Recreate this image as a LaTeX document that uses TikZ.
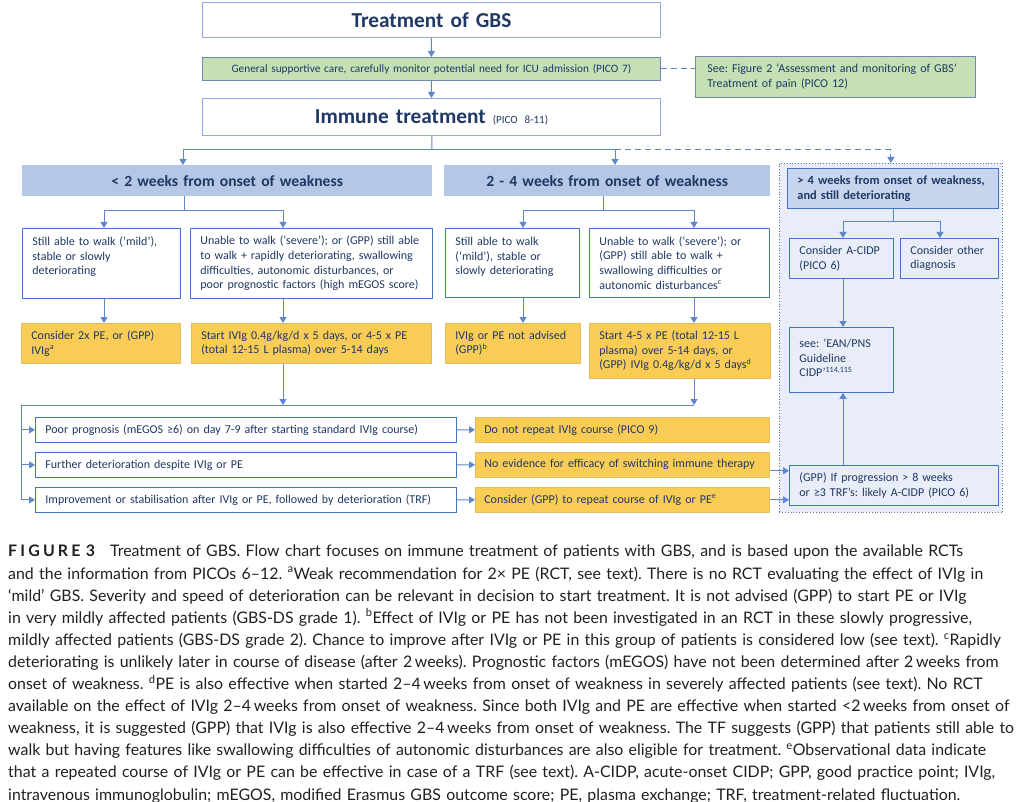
\documentclass[tikz,border=0pt]{standalone}
\usepackage{fontspec}
\setmainfont{Carlito}
\newfontfamily\capfont{Lato}
\usetikzlibrary{arrows.meta, calc}
\definecolor{Navy}{RGB}{31,56,100}
\definecolor{BoxBlue}{RGB}{68,114,196}
\definecolor{PaleBlue}{RGB}{143,170,220}
\definecolor{HeadBlue}{RGB}{180,199,231}
\definecolor{PanelBlue}{RGB}{232,237,247}
\definecolor{PanelHead}{RGB}{199,213,238}
\definecolor{Gold}{RGB}{249,204,86}
\definecolor{GoldEdge}{RGB}{226,188,96}
\definecolor{Sage}{RGB}{197,224,180}
\definecolor{CapGrey}{RGB}{35,31,32}
\definecolor{DotGrey}{RGB}{95,115,150}

\tikzset{
  base/.style={anchor=north west, inner xsep=10pt, inner ysep=0pt, align=left, text=Navy,
    font=\fontsize{12}{14.7}\selectfont},
  wbox/.style={base, draw=BoxBlue, line width=0.8pt, fill=white},
  pbox/.style={base, draw=BoxBlue, line width=0.8pt},
  obox/.style={base, draw=GoldEdge, line width=0.6pt, fill=Gold},
  gbox/.style={base, draw=PaleBlue!80!black, line width=0.8pt, fill=Sage},
  hbox/.style={base, fill=HeadBlue, align=center, font=\bfseries\fontsize{15.6}{18}\selectfont},
  phead/.style={base, draw=BoxBlue, line width=0.8pt, fill=PanelHead, font=\bfseries\fontsize{12.4}{15}\selectfont},
  tbox/.style={base, draw=PaleBlue, line width=1pt, fill=white, align=center, font=\bfseries\fontsize{21.3}{25}\selectfont},
  topbox/.style 2 args={text height=#1, text depth=#2},
  link/.style={draw=BoxBlue!85, line width=1pt},
  arr/.style={link, -{Triangle[length=6pt, width=7pt]}},
  dashlink/.style={dash pattern=on 6pt off 4pt},
}

\begin{document}
\frenchspacing
\begin{tikzpicture}[x=1pt, y=-1pt]
\path[use as bounding box, fill=white] (0,0) rectangle (1030,802);

% top of the chart
\node[tbox, text width=438pt, minimum height=35pt] (title) at (202,2) {Treatment of GBS};
\node[gbox, align=center, font=\fontsize{11.3}{14}\selectfont, text width=438pt, minimum height=23pt] (care) at (202,57) {General supportive care, carefully monitor potential need for ICU admission (PICO 7)};
\node[gbox, inner xsep=12pt, text width=256pt, minimum height=41pt] (see) at (695,56) {See: Figure 2 ‘Assessment and monitoring of GBS’\\Treatment of pain (PICO 12)};
\node[tbox, text width=438pt, minimum height=37pt] (immune) at (202,98) {Immune treatment {\mdseries\fontsize{11}{13}\selectfont(PICO 8-11)}};

% time windows
\node[hbox, text width=390pt, minimum height=31pt] (lt2) at (22,165) {< 2 weeks from onset of weakness};
\node[hbox, text width=306pt, minimum height=31pt] (w24) at (444,165) {2 - 4 weeks from onset of weakness};
\node[draw=DotGrey, dotted, line width=0.8pt, fill=PanelBlue, anchor=north west, inner sep=0pt, minimum width=223pt, minimum height=349pt] (panel) at (779,163) {};

% severity
\node[wbox, topbox={17pt}{53pt}, text width=138pt] (mild1) at (22,228) {Still able to walk (‘mild’),\\stable or slowly\\deteriorating};
\node[wbox, text width=222pt, minimum height=70pt] (severe1) at (190,228) {Unable to walk (‘severe’); or (GPP) still able\\to walk + rapidly deteriorating, swallowing\\difficulties, autonomic disturbances, or\\poor prognostic factors (high mEGOS score)};
\node[wbox, topbox={17pt}{52pt}, text width=114pt] (mild2) at (445,228) {Still able to walk\\(‘mild’), stable or\\slowly deteriorating};
\node[wbox, text width=160pt, minimum height=69pt] (severe2) at (589,228) {Unable to walk (‘severe’); or\\(GPP) still able to walk +\\swallowing difficulties or\\autonomic disturbances\textsuperscript{c}};

% treatment
\node[obox, text width=139pt, minimum height=40pt] (o1) at (21,323) {Consider 2x PE, or (GPP)\\IVIg\textsuperscript{a}};
\node[obox, text width=220pt, minimum height=40pt] (o2) at (191,323) {Start IVIg 0.4g/kg/d x 5 days, or 4-5 x PE\\(total 12-15 L plasma) over 5-14 days};
\node[obox, text width=115pt, minimum height=40pt] (o3) at (445,323) {IVIg or PE not advised\\(GPP)\textsuperscript{b}};
\node[obox, text width=161pt, minimum height=55pt] (o4) at (589,323) {Start 4-5 x PE (total 12-15 L\\plasma) over 5-14 days, or\\(GPP) IVIg 0.4g/kg/d x 5 days\textsuperscript{d}};

% after treatment
\node[wbox, text width=401pt, minimum height=25pt] (r1) at (35,417) {Poor prognosis (mEGOS ≥6) on day 7-9 after starting standard IVIg course)};
\node[wbox, text width=401pt, minimum height=25pt] (r2) at (35,452) {Further deterioration despite IVIg or PE};
\node[wbox, text width=401pt, minimum height=25pt] (r3) at (35,487) {Improvement or stabilisation after IVIg or PE, followed by deterioration (TRF)};
\node[obox, inner xsep=9pt, text width=276pt, minimum height=25pt] (a1) at (475,417) {Do not repeat IVIg course (PICO 9)};
\node[obox, inner xsep=9pt, text width=276pt, minimum height=25pt] (a2) at (475,452) {No evidence for efficacy of switching immune therapy};
\node[obox, inner xsep=9pt, text width=276pt, minimum height=25pt] (a3) at (475,487) {Consider (GPP) to repeat course of IVIg or PE\textsuperscript{e}};

% more than 4 weeks
\node[phead, text width=191pt, minimum height=40pt] (gt4) at (787,168) {> 4 weeks from onset of weakness,\\and still deteriorating};
\node[pbox, text width=84pt, minimum height=40pt] (acidp) at (789,238) {Consider A-CIDP\\(PICO 6)};
\node[pbox, text width=78pt, minimum height=40pt] (other) at (900,238) {Consider other\\diagnosis};
\node[pbox, topbox={20pt}{45pt}, text width=84pt] (ean) at (789,327) {see: ‘EAN/PNS\\Guideline\\CIDP’\textsuperscript{114,115}};
\node[pbox, text width=189pt, minimum height=40pt] (gpp) at (789,465) {(GPP) If progression > 8 weeks\\or ≥3 TRF’s: likely A-CIDP (PICO 6)};

% connectors
\coordinate (fork) at (432,150);
\coordinate (colA) at (183,0);
\coordinate (colB) at (615,0);
\coordinate (f1) at (184,211);
\coordinate (f2) at (603,211);
\coordinate (f3) at (893,222);
\coordinate (c1) at (104,0);
\coordinate (c2) at (283,0);
\coordinate (c3) at (523,0);
\coordinate (c4) at (694,0);
\coordinate (c5) at (843,0);
\coordinate (c6) at (940,0);
\coordinate (brk) at (21,405);
\coordinate (a2out) at ([yshift=-6pt]a2.east);

\draw[arr] (title) -- (care);
\draw[link, dashlink] (care.east) -- (care.east -| see.west);
\draw[arr] (care) -- (immune);
\draw[link] (immune) -- (fork);
\draw[arr] (fork) -| (lt2.north -| colA);
\draw[arr] (fork) -| (w24.north -| colB);
\draw[arr, dashlink] (fork -| colB) -| (panel.north);

\draw[link] (lt2.south -| f1) -- (f1);
\draw[arr] (f1) -| (mild1.north -| c1);
\draw[arr] (f1) -| (severe1.north -| c2);
\draw[link] (w24.south -| f2) -- (f2);
\draw[arr] (f2) -| (mild2.north -| c3);
\draw[arr] (f2) -| (severe2.north -| c4);

\draw[arr] (mild1.south -| c1) -- (o1.north -| c1);
\draw[arr] (severe1.south -| c2) -- (o2.north -| c2);
\draw[arr] (mild2.south -| c3) -- (o3.north -| c3);
\draw[arr] (severe2.south -| c4) -- (o4.north -| c4);

\draw[arr] (o2.south -| c2) -- (brk -| c2);
\draw[arr] (o4.south -| c4) -- (brk -| c4);
\draw[link] (brk -| c4) -- (brk) -- (brk |- r3.west);
\draw[arr] (brk |- r1.west) -- (r1.west);
\draw[arr] (brk |- r2.west) -- (r2.west);
\draw[arr] (brk |- r3.west) -- (r3.west);
\draw[arr] (r1) -- (a1);
\draw[arr] (r2) -- (a2);
\draw[arr] (r3) -- (a3);
\draw[arr] (a2out) -- (a2out -| gpp.west);
\draw[arr] (a3.east) -- (a3.east -| gpp.west);

\draw[link] (gt4.south -| f3) -- (f3);
\draw[arr] (f3) -| (acidp.north -| c5);
\draw[arr] (f3) -| (other.north -| c6);
\draw[arr] (acidp.south -| c5) -- (ean.north -| c5);
\draw[arr] (gpp.north -| c5) -- (ean.south -| c5);

% caption
\node[anchor=north west, inner sep=0pt, align=left, text width=1020pt, text=CapGrey,
  font=\capfont\fontsize{15.9}{22.1}\selectfont] (caption) at (8,545) {%
{\bfseries\addfontfeature{LetterSpace=20}FIGURE 3}\hspace{0.95em}Treatment of GBS. Flow chart focuses on immune treatment of patients with GBS, and is based upon the available RCTs\\
and the information from PICOs 6–12. \textsuperscript{a}Weak recommendation for 2× PE (RCT, see text). There is no RCT evaluating the effect of IVIg in\\
‘mild’ GBS. Severity and speed of deterioration can be relevant in decision to start treatment. It is not advised (GPP) to start PE or IVIg\\
in very mildly affected patients (GBS-DS grade 1). \textsuperscript{b}Effect of IVIg or PE has not been investigated in an RCT in these slowly progressive,\\
mildly affected patients (GBS-DS grade 2). Chance to improve after IVIg or PE in this group of patients is considered low (see text). \textsuperscript{c}Rapidly\\
deteriorating is unlikely later in course of disease (after 2\,weeks). Prognostic factors (mEGOS) have not been determined after 2\,weeks from\\
onset of weakness. \textsuperscript{d}PE is also effective when started 2–4\,weeks from onset of weakness in severely affected patients (see text). No RCT\\
available on the effect of IVIg 2–4\,weeks from onset of weakness. Since both IVIg and PE are effective when started <2\,weeks from onset of\\
weakness, it is suggested (GPP) that IVIg is also effective 2–4\,weeks from onset of weakness. The TF suggests (GPP) that patients still able to\\
walk but having features like swallowing difficulties of autonomic disturbances are also eligible for treatment. \textsuperscript{e}Observational data indicate\\
that a repeated course of IVIg or PE can be effective in case of a TRF (see text). A-CIDP, acute-onset CIDP; GPP, good practice point; IVIg,\\
intravenous immunoglobulin; mEGOS, modified Erasmus GBS outcome score; PE, plasma exchange; TRF, treatment-related fluctuation.};
\end{tikzpicture}
\end{document}
